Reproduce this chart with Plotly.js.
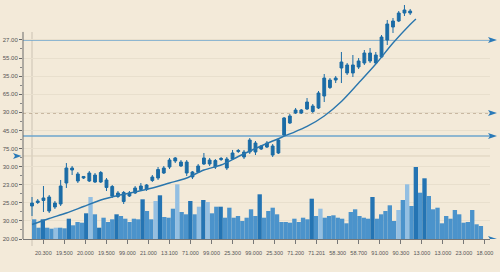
<!DOCTYPE html>
<html><head><meta charset="utf-8">
<script src="https://cdn.plot.ly/plotly-3.0.1.min.js"></script>
<style>html,body{margin:0;padding:0;background:#f3ead9;}#chart{width:500px;height:272px;}</style>
</head><body><div id="chart"></div>
<script>
// ---- data ----
const candleOpen = [29.12,30.50,30.64,31.60,28.84,29.67,35.47,39.61,37.96,36.85,
  36.02,37.68,35.75,36.30,34.50,31.74,32.85,31.88,32.71,33.67,
  34.92,36.16,36.85,38.23,39.89,42.38,41.27,41.27,38.51,38.51,
  40.72,41.82,39.89,41.96,42.10,42.10,44.17,44.03,44.03,46.52,
  44.86,45.41,45.69,43.76,48.73,52.04,54.81,55.63,55.91,56.74,
  56.19,59.50,63.92,63.92,67.24,68.07,65.86,67.51,68.62,69.17,
  70.83,70.28,74.97,78.56,80.22,82.43,82.98];
const candleClose = [29.94,30.08,31.33,27.73,29.94,34.64,39.61,39.06,36.02,37.27,
  38.23,35.75,38.37,34.23,31.88,32.71,30.36,32.71,34.09,34.64,
  33.67,37.13,39.20,39.61,41.82,41.55,40.17,38.23,37.13,40.17,
  42.38,40.72,41.68,42.24,39.61,43.76,44.45,42.65,47.35,44.03,
  45.69,46.52,43.20,47.35,53.43,53.98,55.63,54.81,57.84,55.22,
  60.33,64.47,61.85,64.47,68.89,65.86,68.07,69.17,71.38,71.38,
  68.62,75.80,79.39,80.22,82.43,83.26,82.43];
const candleHigh = [31.60,31.05,34.64,32.15,30.50,36.30,40.99,40.17,38.51,37.40,
  38.78,38.23,38.78,36.85,34.92,33.26,33.26,33.26,34.64,35.47,
  35.19,37.68,39.89,40.17,42.38,42.65,41.82,41.82,38.78,40.72,
  43.76,42.38,42.10,42.65,42.65,44.59,44.86,44.59,47.90,47.07,
  45.97,47.07,46.24,47.90,53.70,54.53,56.19,55.91,58.95,57.29,
  60.88,65.58,64.47,65.03,71.66,68.62,70.83,70.00,72.21,72.76,
  71.66,76.35,80.50,81.05,82.98,84.64,83.54];
const candleLow = [26.35,29.67,27.46,27.18,28.29,29.12,34.09,37.68,35.47,36.57,
  35.75,35.47,35.47,33.26,31.33,31.33,29.67,31.60,32.43,33.26,
  33.26,35.75,36.30,37.96,39.34,40.99,39.89,37.40,36.57,38.23,
  40.44,40.17,39.34,41.55,39.06,41.82,43.76,42.10,43.48,43.20,
  44.59,45.14,42.65,43.48,48.45,51.77,54.53,54.53,55.63,54.81,
  55.91,57.84,61.44,63.09,63.09,65.30,64.75,66.96,68.07,68.62,
  68.34,70.00,73.59,76.91,79.94,81.60,81.88];
const trendIndex = [0,3,6,9,12,15,18,21,24,27,30,33,36,39,42,45,48,51,54,57,60,63,66,67];
const trendValue = [24.01,25.66,27.18,28.98,30.77,32.02,32.98,34.09,35.47,36.85,39.06,40.44,
  42.79,45.00,47.07,49.01,51.08,53.98,57.98,63.09,68.34,74.14,79.25,80.77];
const volume = [19.7,11.3,19.7,11.3,10.3,11.3,11.3,10.7,20.3,13.7,
  17,16.3,25.7,42,24.7,11.3,21.3,17,19.7,24.7,
  23,20.3,17,20.3,19.7,39.7,28,19.7,38,43.7,
  22,21.3,30.3,54.7,27,24.7,38,24.7,32.3,39,
  37,25.7,32.3,32.3,21.3,31.3,21.3,23,18,21.3,
  29.7,23,44.7,21.3,28,31.3,24.7,17,17,16.3,
  20.3,17,21.3,19.7,40.3,23,30.3,21.3,23,23.7,
  21.3,20.3,15.7,27,29.7,23,21.3,20.3,42,20.3,
  24.7,28,33.7,18,29,39,54.7,33,72,46.3,
  60.7,43,29.7,31.3,15.7,23,20.3,29,24.7,16.3,
  17,29,14.7,13];
const levels = [74.97, 54.81, 48.45, 42.93];
const yTickValues = [20,25,30,35,40,45,50,55,60,65,70,75];
const yTickLabels = ["20.00","30.00","25.00","23.00","30.00","75.00","45.00","30.00","65.00","35.00","55.00","27.00"];
const xTickLabels = ["20.300","19.500","20.000","19.500","99.000","21.000","13.100","71.000","99.000","25.300","99.000",
  "25.300","71.200","71.201","58.300","58.700","91.000","90.300","13.000","13.000","23.000","18.000"];

// ---- styling ----
const darkBars = [2,8,12,15,19,25,29,36,39,43,52,64,78,88,90];
const lightBars = [5,13,28,33,38,40,66,84,86];
const barColors = volume.map((_, i) => darkBars.includes(i) ? '#2474b3' : (lightBars.includes(i) ? '#93bfe2' : '#4b93cb'));
const candleBlue = '#1b6ca6';
const arrowBlue = '#2a7ab8';

const traces = [
  {type:'bar', x: volume.map((_, i) => i), y: volume, xaxis:'x', yaxis:'y', width:1.0,
   marker:{color: barColors, line:{width:0}}, hoverinfo:'skip'},
  {type:'candlestick', x: candleOpen.map((_, i) => i), open: candleOpen, high: candleHigh, low: candleLow, close: candleClose,
   xaxis:'x2', yaxis:'y2', whiskerwidth:0,
   increasing:{line:{color:candleBlue, width:1}, fillcolor:candleBlue},
   decreasing:{line:{color:candleBlue, width:1}, fillcolor:candleBlue}, hoverinfo:'skip'},
  {type:'scatter', mode:'lines', x: trendIndex, y: trendValue, xaxis:'x2', yaxis:'y2',
   line:{color:'#2a76ad', width:1.4, shape:'spline', smoothing:0.8}, hoverinfo:'skip'}
];

const arrowPath = 'M -2 -3 L 7 0 L -2 3 L 0 0 Z';
const shapes = [
  // y axis line
  {type:'line', xref:'paper', yref:'y2', x0:0, x1:0, y0:20, y1:77.2, line:{color:'#6b6b6b', width:1}},
  // light vertical line
  {type:'line', xref:'paper', yref:'paper', x0:0.0193, x1:0.0193, y0:-0.0295, y1:0.8734, line:{color:'#cbc2b3', width:1}, layer:'below'},
  {type:'line', xref:'paper', yref:'y2', x0:0, x1:1, y0:levels[0], y1:levels[0], line:{color:'#6da5cd', width:1.3}, layer:'below'},
  {type:'line', xref:'paper', yref:'y2', x0:0, x1:1, y0:levels[1], y1:levels[1], line:{color:'#9c8568', width:1, dash:'dot'}, layer:'below'},
  {type:'line', xref:'paper', yref:'y2', x0:0, x1:1, y0:levels[2], y1:levels[2], line:{color:'#6da5cd', width:1.3}, layer:'below'},
  {type:'line', xref:'paper', yref:'y2', x0:0, x1:1, y0:levels[3], y1:levels[3], line:{color:'#ddd1bd', width:1}, layer:'below'},
  {type:'path', xref:'paper', yref:'y2', xsizemode:'pixel', ysizemode:'pixel', xanchor:1, yanchor:levels[0], path:arrowPath, fillcolor:arrowBlue, line:{width:0}},
  {type:'path', xref:'paper', yref:'y2', xsizemode:'pixel', ysizemode:'pixel', xanchor:1, yanchor:levels[1], path:arrowPath, fillcolor:arrowBlue, line:{width:0}},
  {type:'path', xref:'paper', yref:'y2', xsizemode:'pixel', ysizemode:'pixel', xanchor:1, yanchor:levels[2], path:arrowPath, fillcolor:arrowBlue, line:{width:0}},
  {type:'path', xref:'paper', yref:'y2', xsizemode:'pixel', ysizemode:'pixel', xanchor:1, yanchor:20, path:arrowPath, fillcolor:arrowBlue, line:{width:0}},
  {type:'path', xref:'paper', yref:'y2', xsizemode:'pixel', ysizemode:'pixel', xanchor:0, yanchor:levels[3], path:'M -10 -3 L -1.5 0 L -10 3 L -8 0 Z', fillcolor:arrowBlue, line:{width:0}}
];

const minorVals = yTickValues.slice(0, -1).map((v, i) => (v + yTickValues[i + 1]) / 2);

const layout = {
  width:500, height:272, margin:{l:23, r:10, t:2, b:33},
  paper_bgcolor:'#f3ead9', plot_bgcolor:'#f3ead9', showlegend:false,
  font:{family:'Liberation Sans, Arial, sans-serif', color:'#555'},
  xaxis:{range:[-2.575, 105.1], showticklabels:false, showgrid:false, zeroline:false, showline:false, ticks:'', fixedrange:true},
  yaxis:{range:[0, 237], showticklabels:false, showgrid:false, zeroline:false, showline:false, ticks:'', fixedrange:true},
  xaxis2:{overlaying:'x', anchor:'y', side:'bottom', range:[-1.571, 79.93],
    tickmode:'array', tickvals: xTickLabels.map((_, k) => 1.972 + 3.670 * k), ticktext: xTickLabels,
    ticks:'outside', ticklen:4, tickcolor:'#777', tickwidth:1,
    showline:true, linecolor:'#777', linewidth:1, showgrid:false, zeroline:false,
    tickfont:{size:5.5, color:'#555'}, ticklabelstandoff:4, rangeslider:{visible:false}, fixedrange:true},
  yaxis2:{overlaying:'y', anchor:'x', side:'left', range:[20, 85.47],
    tickmode:'array', tickvals: yTickValues, ticktext: yTickLabels,
    ticks:'outside', ticklen:3, tickcolor:'#666', tickwidth:1,
    showgrid:true, gridcolor:'#e8dfcd', gridwidth:1, zeroline:false, showline:false,
    tickfont:{size:6, color:'#555'},
    minor:{tickmode:'array', tickvals:minorVals, ticklen:2, tickcolor:'#888', showgrid:false},
    fixedrange:true},
  shapes: shapes
};

Plotly.newPlot('chart', traces, layout, {staticPlot:true, displayModeBar:false});
</script>
</body></html>
